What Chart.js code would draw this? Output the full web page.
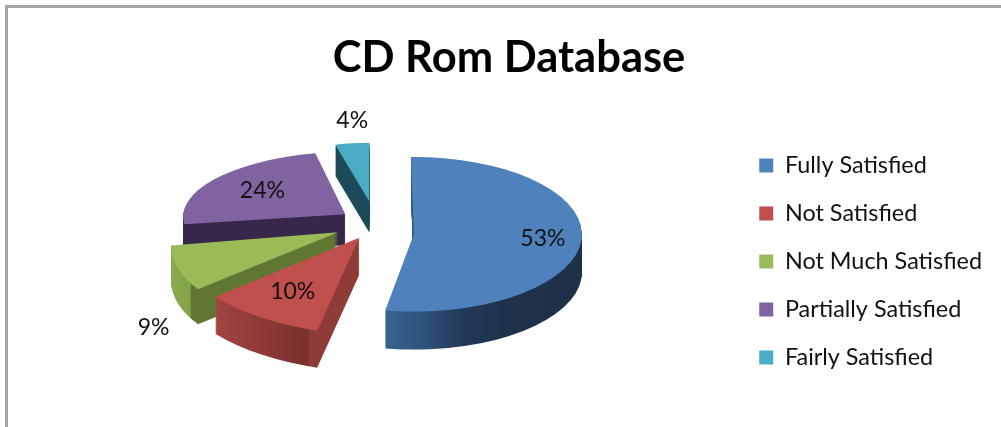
<!DOCTYPE html>
<html><head><meta charset="utf-8">
<script src="https://cdn.jsdelivr.net/npm/chart.js@4"></script>
<style>
html,body{margin:0;padding:0;background:#fff;overflow:hidden;width:1001px;height:427px}
#frame{position:absolute;left:5px;top:5px;width:1000px;height:430px;border-left:3px solid #a6a6a6;border-top:3px solid #a6a6a6;filter:blur(.4px)}
#wrap{position:absolute;left:26px;top:0;width:975px;height:427px;filter:blur(.45px)}
</style></head><body>
<div id="frame"></div>
<div id="wrap"><canvas id="c" width="975" height="427"></canvas></div>
<script>
const categories = ['Fully Satisfied','Not Satisfied','Not Much Satisfied','Partially Satisfied','Fairly Satisfied'];
const values = [53,10,9,24,4];
const topColors = ['#4f81bd','#c0504d','#9bbb59','#8064a2','#4bacc6'];

// 3D look: explosion, per-slice perspective matrix and depth (styling only)
const pieRadius = 168, pieSquash = 0.46, pieCenterX = 376 - 26, pieCenterY = 223;
const explode = [38,36,43,36,47];
const apexLift = [10,0,0,0,0];
const sliceMatrix = [
  [1,0,0,0.46],
  [1.14,0.068,-0.057,0.574],
  [0.976,0.028,-0.192,0.516],
  [0.962,0.017,-0.08,0.372],
  [0.8125,0.002,-0.014,0.351]
];
const sliceDepth = [38,37,35,31,31];
const paintOrder = [4,3,2,1,0];
const wallStops = [
  [[-1,'#376390'],[-0.155,'#376390'],[0.05,'#2f5379'],[0.3,'#22385a'],[0.55,'#1f324c'],[1,'#1f3049']],
  [[-1,'#a24541'],[-0.73,'#a24541'],[-0.22,'#7a302d'],[-0.21,'#8f3c39'],[1,'#913e3a']],
  [[-1,'#8aab4e'],[-0.78,'#84a34a'],[-0.77,'#5f7732'],[1,'#5f7732']],
  [[-1,'#37274a'],[1,'#37274a']],
  [[-1,'#1c4a58'],[1,'#1c4a58']]
];
const labelRadius = [0.77,0.68,1.46,0.65,1.38];
const labelTurnDeg = [0,0,-24,2,2];
const labelFont = '23px Lato';

function apexOf(el,i){
  const mid=(el.startAngle+el.endAngle)/2;
  return {mid, x:pieCenterX+Math.cos(mid)*explode[i], y:pieCenterY+Math.sin(mid)*explode[i]*pieSquash+apexLift[i]};
}
function paintArc(ctx,el,fill){
  const shim=Object.create(el);
  shim.options={backgroundColor:fill,borderColor:fill,borderWidth:0,borderAlign:'center',borderRadius:0,offset:0,spacing:0,circular:true,borderDash:[],borderDashOffset:0,borderJoinStyle:'round'};
  shim.draw(ctx);
}
const extrudedPie={
  id:'extrudedPie',
  beforeDatasetsDraw(chart){
    const ctx=chart.ctx, arcs=chart.getDatasetMeta(0).data;
    paintOrder.forEach(i=>{
      const el=arcs[i], a=apexOf(el,i), m=sliceMatrix[i];
      const g=ctx.createLinearGradient(el.x-pieRadius,0,el.x+pieRadius,0);
      wallStops[i].forEach(s=>g.addColorStop((s[0]+1)/2,s[1]));
      for(let d=sliceDepth[i];d>=0;d--){
        ctx.save();
        ctx.translate(a.x,a.y+d);
        ctx.transform(m[0],m[1],m[2],m[3],0,0);
        ctx.translate(-el.x,-el.y);
        paintArc(ctx,el,d===0?topColors[i]:g);
        ctx.restore();
      }
    });
    return false;
  },
  afterDraw(chart){
    const ctx=chart.ctx, arcs=chart.getDatasetMeta(0).data;
    ctx.save();
    ctx.font=labelFont; ctx.fillStyle='#111'; ctx.textAlign='center'; ctx.textBaseline='middle';
    arcs.forEach((el,i)=>{
      const a=apexOf(el,i), m=sliceMatrix[i], t=a.mid+labelTurnDeg[i]*Math.PI/180, k=labelRadius[i]*pieRadius;
      const u=Math.cos(t)*k, v=Math.sin(t)*k;
      ctx.fillText(values[i]+'%',a.x+m[0]*u+m[2]*v,a.y+m[1]*u+m[3]*v);
    });
    ctx.restore();
  }
};
new Chart(document.getElementById('c'),{
  type:'pie',
  data:{labels:categories,datasets:[{data:values,backgroundColor:topColors,borderWidth:0}]},
  options:{
    responsive:false,animation:false,events:[],
    radius:pieRadius,rotation:-1,
    layout:{padding:{right:9}},
    plugins:{
      tooltip:{enabled:false},
      title:{display:true,text:'CD Rom Database',color:'#000',font:{family:'Lato',size:43.5,weight:'bold'},padding:{top:32,bottom:12}},
      legend:{position:'right',fullSize:false,labels:{color:'#111',font:{family:'Lato',size:23.4},boxWidth:14,boxHeight:14,padding:24.6}}
    }
  },
  plugins:[extrudedPie]
});
</script>
</body></html>
